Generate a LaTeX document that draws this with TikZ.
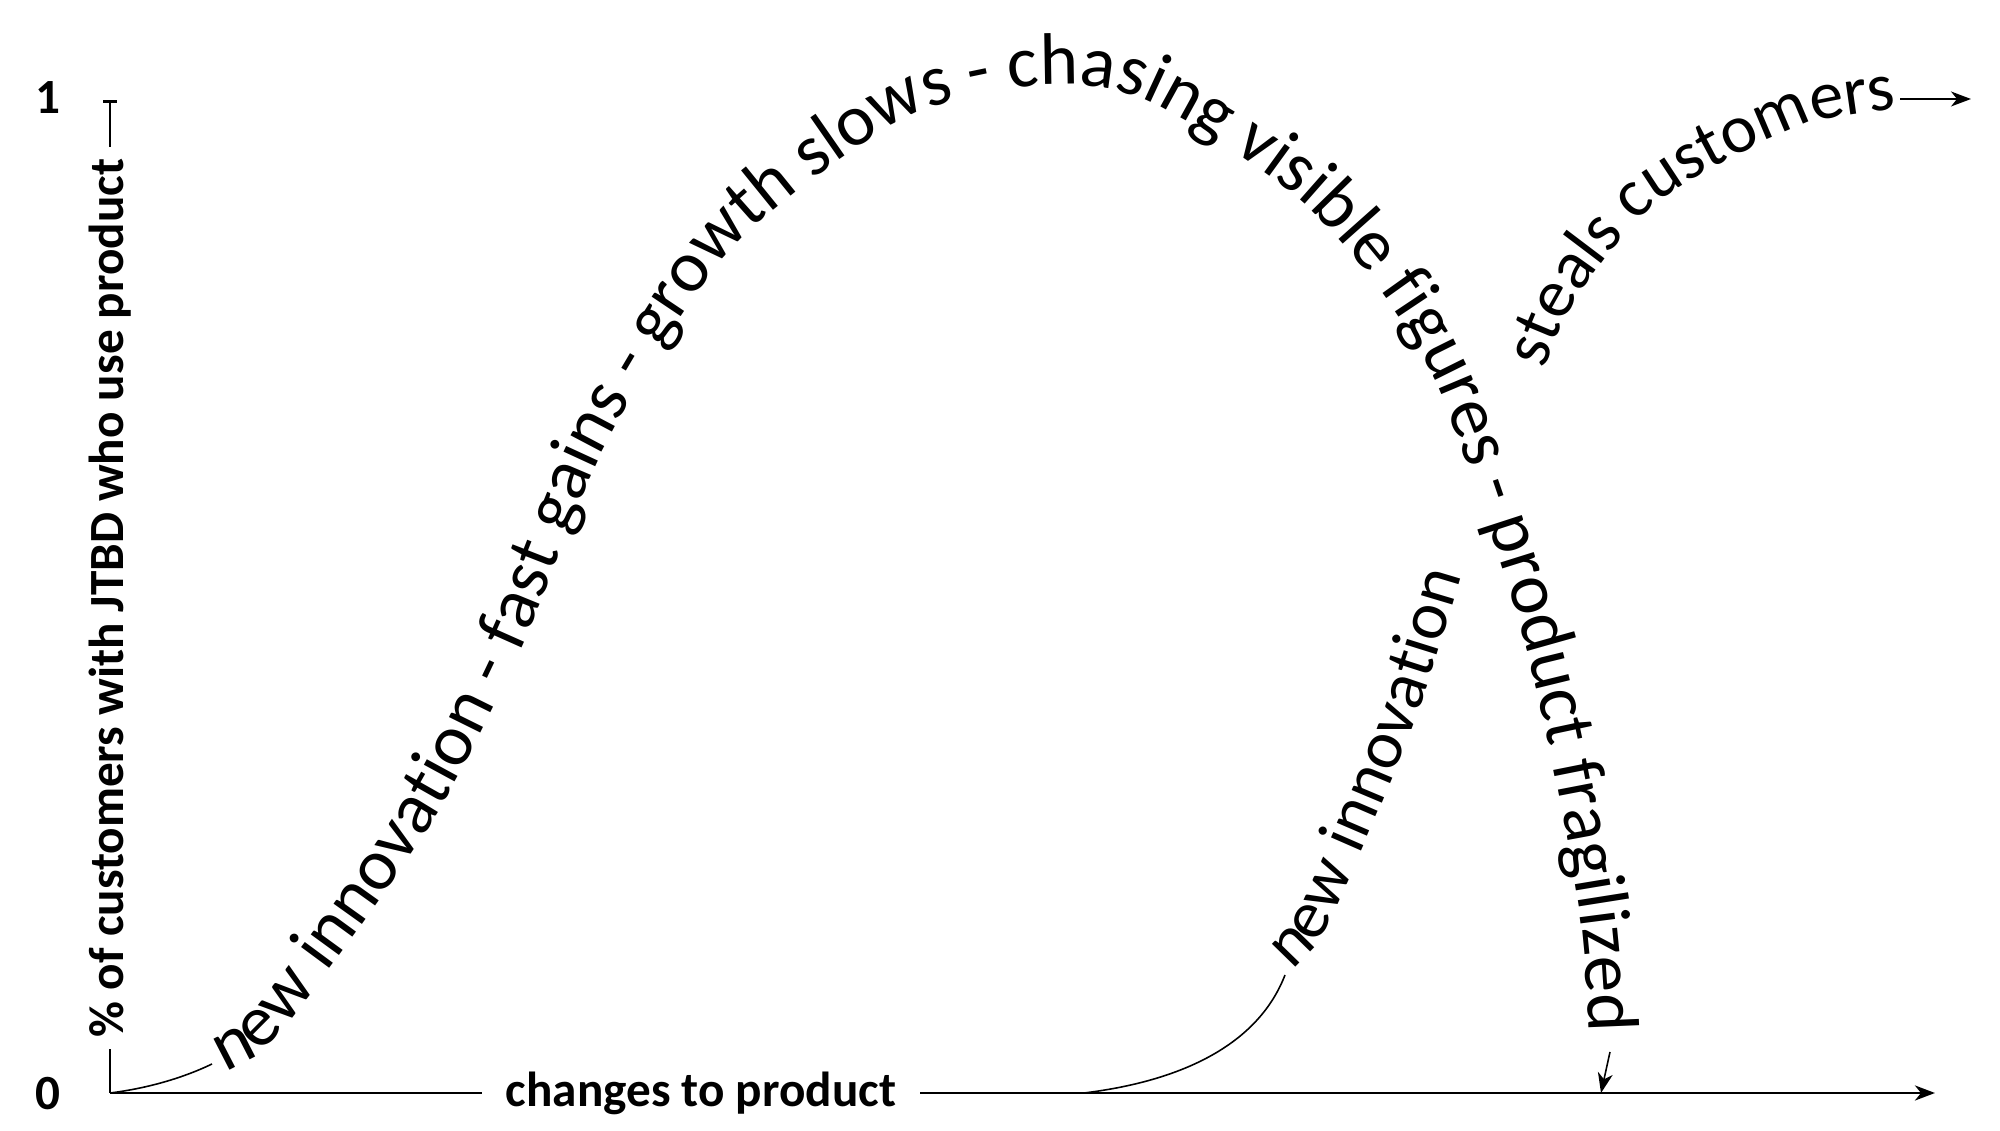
\documentclass[tikz,border=0pt]{standalone}
\usepackage{fontspec}
\setmainfont{Carlito}
\usetikzlibrary{arrows.meta,decorations.text}

\newcommand\curvefont{\fontsize{20.8}{25}\selectfont}
\newcommand\rivalfont{\fontsize{19.5}{24}\selectfont}

\tikzset{
  axis/.style={line width=0.8pt},
  lead/.style={line width=0.45pt},
  axislabel/.style={font=\fontsize{14}{16}\selectfont\bfseries, fill=white, inner xsep=2.4mm, inner ysep=0pt},
  ticklabel/.style={font=\fontsize{14}{16}\selectfont\bfseries, inner sep=0pt},
  pathtext/.style={decorate, decoration={text along path, text={|\curvefont|#1}}},
  rivaltext/.style={decorate, decoration={text along path, text={|\rivalfont|#1}}}
}

\begin{document}
\begin{tikzpicture}[x=0.1mm, y=-0.1mm, >={Stealth[length=2mm, width=1.5mm, inset=0.6mm]}]
  \useasboundingbox (0,0) rectangle (2000,1131);

  \coordinate (O) at (110,1093);
  \coordinate (ytop) at (110,100);
  \coordinate (xend) at (1935,1093);

  % axes
  \draw[axis, -{Bar[width=1.4mm]}] (O) -- (ytop);
  \draw[axis, ->] (O) -- (xend);
  \node[axislabel, rotate=90, inner xsep=1.2mm] (ylab) at (110,598) {\% of customers with JTBD who use product};
  \node[axislabel] (xlab) at (701,1093) {changes to product};
  \node[ticklabel] (one) at (48,98) {1};
  \node[ticklabel] (zero) at (48,1094) {0};

  % first product
  \coordinate (lead1) at (212,1064);
  \draw[lead] (O) .. controls (150,1088) and (185,1077) .. (lead1);
  \path[pathtext={new innovation - fast gains - growth slows - chasing visible figures - product fragilized}]
    plot[smooth] coordinates {(225,1070) (281,1032) (427,830) (520,651) (608,441) (731,250) (899,122)
      (1033,86) (1145,100) (1309,208) (1429,368) (1525,643) (1579,907) (1590,1060) (1592,1100)};
  \coordinate (fragend) at (1610,1052);
  \coordinate (fragtip) at (1601,1093);
  \draw[lead, ->] (fragend) -- (fragtip);

  % second product
  \coordinate (base2) at (1084,1093);
  \coordinate (lead2) at (1285,975);
  \draw[lead] (base2) .. controls (1190,1080) and (1260,1040) .. (lead2);
  \path[rivaltext={new innovation}]
    plot[smooth] coordinates {(1291,969) (1327,926) (1411,732) (1463,570) (1490,470) (1520,400)};
  \path[rivaltext={steals customers}]
    plot[smooth] coordinates {(1545,370) (1575,301) (1656,203) (1790,130) (1878,111) (1960,100) (2000,97)};
  \coordinate (stealend) at (1900,99);
  \coordinate (stealtip) at (1971,99);
  \draw[lead, ->] (stealend) -- (stealtip);
\end{tikzpicture}
\end{document}
